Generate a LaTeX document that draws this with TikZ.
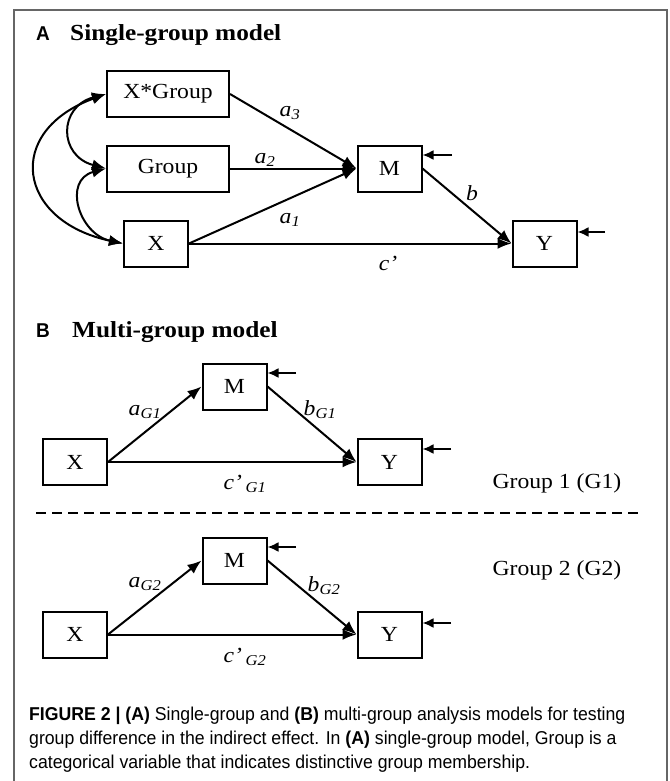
\documentclass[tikz,border=0pt]{standalone}
\usepackage{fontspec}
\setmainfont{Liberation Serif}[FakeStretch=1.1]
\newfontfamily\capfont{Liberation Sans}[FakeStretch=0.95]
\usetikzlibrary{arrows.meta}

\tikzset{
  varbox/.style={draw, line width=2pt, minimum height=46pt, inner sep=0pt,
    font=\fontsize{21.5}{24}\selectfont},
  widebox/.style={varbox, minimum width=122pt},
  smallbox/.style={varbox, minimum width=64pt},
  effect/.style={line width=2pt, -{Latex[length=14pt,width=11pt]}},
  resid/.style={line width=2pt, -{Latex[length=11pt,width=10pt]}},
  covar/.style={line width=2pt, {Latex[length=14pt,width=11pt]}-{Latex[length=14pt,width=11pt]}},
  coeflbl/.style={inner sep=0pt, font=\fontsize{21.5}{24}\selectfont},
  paneltag/.style={anchor=base west, inner sep=0pt, font=\capfont\bfseries\fontsize{20}{24}\selectfont},
  paneltitle/.style={anchor=base west, inner sep=0pt, font=\bfseries\fontsize{23}{26}\selectfont},
  capline/.style={anchor=base west, inner sep=0pt, font=\capfont\fontsize{18.6}{24}\selectfont}
}
\newcommand{\coef}[2]{\textit{#1}\textsubscript{\textit{#2}}}

\begin{document}
\begin{tikzpicture}[x=1pt,y=1pt]
  \useasboundingbox (0,0) rectangle (669,-781);
  \draw[line width=1.2pt, black!60] (14,-800) -- (14,-10) -- (667,-10) -- (667,-800);

  % A: single-group model
  \node[paneltag] (tagA) at (36,-41) {A};
  \node[paneltitle] (titleA) at (70,-41) {Single-group model};

  \node[widebox] (xg) at (168,-94) {X*Group};
  \node[widebox] (grp) at (168,-168.5) {Group};
  \node[smallbox] (x) at (156,-243.5) {X};
  \node[smallbox] (m) at (389.5,-168.5) {M};
  \node[smallbox] (y) at (544.5,-243.5) {Y};

  \draw[effect] (xg.east) -- (m.west);
  \draw[effect] (grp.east) -- (m.west);
  \draw[effect] (x.east) -- (m.west);
  \draw[effect] (m.east) -- (y.west);
  \draw[effect] (x.east) -- (y.west);

  \draw[covar] (xg.west) to[out=195,in=165,looseness=1.7] (grp.west);
  \draw[covar] (grp.west) to[out=195,in=168,looseness=1.5] (x.west);
  \draw[covar] (xg.west) to[out=200,in=168,looseness=1.85] (x.west);

  \coordinate (em) at (452,-155);
  \coordinate (ey) at (605,-232);
  \draw[resid] (em) -- (m.east |- em);
  \draw[resid] (ey) -- (y.east |- ey);

  \node[coeflbl] (a3) at (290,-113) {\coef{a}{3}};
  \node[coeflbl] (a2) at (265,-160) {\coef{a}{2}};
  \node[coeflbl] (a1) at (290,-220) {\coef{a}{1}};
  \node[coeflbl] (b) at (472,-193) {\textit{b}};
  \node[coeflbl] (c) at (388,-263) {\textit{c’}};

  % B: multi-group model
  \node[paneltag] (tagB) at (36,-337) {B};
  \node[paneltitle] (titleB) at (72,-337) {Multi-group model};

  % group 1
  \node[smallbox] (x1) at (75,-462) {X};
  \node[smallbox] (m1) at (234.5,-386.5) {M};
  \node[smallbox] (y1) at (389.5,-462) {Y};
  \draw[effect] (x1.east) -- (m1.west);
  \draw[effect] (m1.east) -- (y1.west);
  \draw[effect] (x1.east) -- (y1.west);
  \coordinate (em1) at (296,-373);
  \coordinate (ey1) at (451,-449);
  \draw[resid] (em1) -- (m1.east |- em1);
  \draw[resid] (ey1) -- (y1.east |- ey1);
  \node[coeflbl] (a1g) at (145,-412) {\coef{a}{G1}};
  \node[coeflbl] (b1g) at (320,-410) {\coef{b}{G1}};
  \node[coeflbl] (c1g) at (245,-484) {\textit{c’}\,\textsubscript{\textit{G1}}};
  \node[coeflbl] (g1) at (557,-483) {Group 1 (G1)};

  \draw[line width=2pt, dash pattern=on 10pt off 6pt] (36,-513) coordinate (d0) -- (642,-513) coordinate (d1);

  % group 2
  \node[smallbox] (x2) at (75,-634.5) {X};
  \node[smallbox] (m2) at (234.5,-560.5) {M};
  \node[smallbox] (y2) at (389.5,-634.5) {Y};
  \draw[effect] (x2.east) -- (m2.west);
  \draw[effect] (m2.east) -- (y2.west);
  \draw[effect] (x2.east) -- (y2.west);
  \coordinate (em2) at (296,-547);
  \coordinate (ey2) at (451,-623);
  \draw[resid] (em2) -- (m2.east |- em2);
  \draw[resid] (ey2) -- (y2.east |- ey2);
  \node[coeflbl] (a2g) at (145,-584) {\coef{a}{G2}};
  \node[coeflbl] (b2g) at (324,-586) {\coef{b}{G2}};
  \node[coeflbl] (c2g) at (245,-657) {\textit{c’}\,\textsubscript{\textit{G2}}};
  \node[coeflbl] (g2) at (557,-570) {Group 2 (G2)};

  % caption
  \node[capline] (cap1) at (29,-720) {\textbf{FIGURE 2 | (A)} Single-group and \textbf{(B)} multi-group analysis models for testing};
  \node[capline] (cap2) at (29,-744) {group difference in the indirect effect. In \textbf{(A)} single-group model, Group is a};
  \node[capline] (cap3) at (29,-768) {categorical variable that indicates distinctive group membership.};
\end{tikzpicture}
\end{document}
